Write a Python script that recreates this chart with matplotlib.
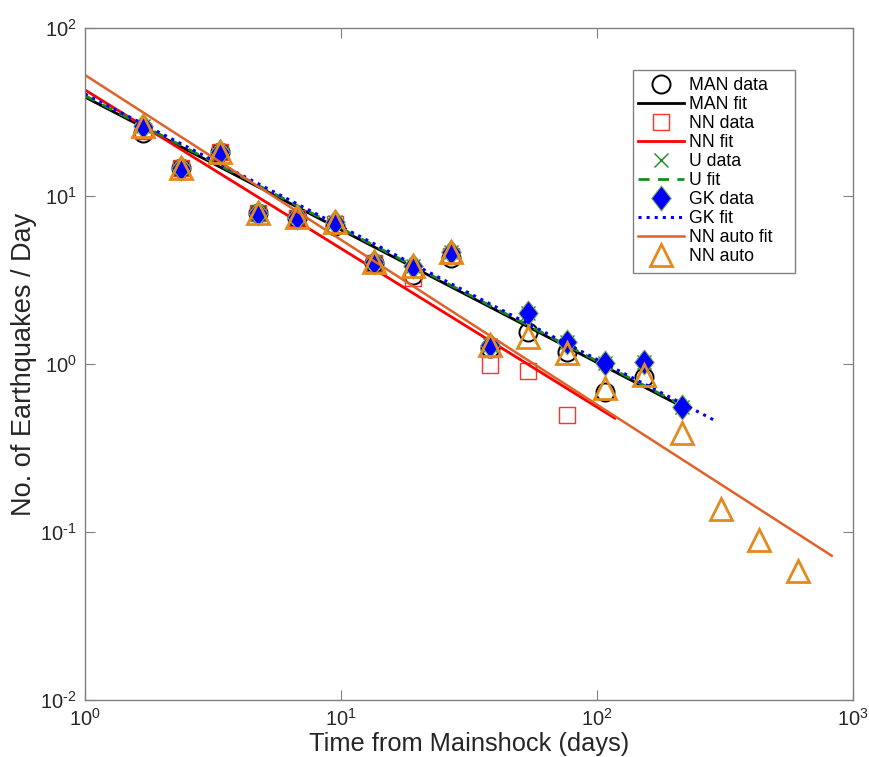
import numpy as np
import matplotlib
matplotlib.use("Agg")
import matplotlib.pyplot as plt
from matplotlib.path import Path
from matplotlib.patches import Rectangle
from matplotlib.ticker import FuncFormatter, NullLocator

plt.rcParams['font.family'] = ['Liberation Sans', 'DejaVu Sans']
plt.rcParams['mathtext.fontset'] = 'custom'
plt.rcParams['mathtext.rm'] = 'Liberation Sans'
plt.rcParams['mathtext.it'] = 'Liberation Sans:italic'
plt.rcParams['mathtext.bf'] = 'Liberation Sans:bold'

# ---- data ----
t_all = [1.68, 2.38, 3.36, 4.76, 6.73, 9.51, 13.45, 19.03, 26.9, 38.05,
         53.8, 76.1, 107.6, 152.2, 215.3, 304.4, 430.5, 608.9]

man_t = t_all[:14]
man_y = [23.7, 14.7, 18.2, 7.9, 7.4, 6.6, 4.0, 3.4, 4.3, 1.25,
         1.56, 1.18, 0.68, 0.84]

nn_t = t_all[:12]
nn_y = [24.5, 14.7, 18.3, 7.9, 7.4, 6.8, 4.0, 3.25, 4.4, 0.99, 0.91, 0.50]

u_t = t_all[:15]
u_y = [26.0, 14.7, 18.4, 7.9, 7.5, 7.0, 4.06, 3.83, 4.66, 1.3,
       2.01, 1.36, 1.01, 1.03, 0.557]

gk_t = t_all[:15]
gk_y = [26.0, 14.7, 18.4, 7.9, 7.5, 7.0, 4.06, 3.83, 4.66, 1.3,
        2.01, 1.36, 1.01, 1.03, 0.557]

nna_t = t_all
nna_y = [26.1, 14.7, 18.4, 7.9, 7.5, 7.0, 4.06, 3.83, 4.66, 1.3,
         1.45, 1.16, 0.72, 0.86, 0.39, 0.137, 0.0896, 0.0586]

# power-law fits: y = K * t^(-p), drawn from t0 to t1
man_fit = dict(K=38.8, p=0.79, t0=1.0, t1=215.0)
nn_fit = dict(K=42.8, p=0.944, t0=1.0, t1=117.5)
u_fit = dict(K=39.6, p=0.79, t0=1.0, t1=215.0)
gk_fit = dict(K=40.5, p=0.79, t0=1.0, t1=292.0)
nna_fit = dict(K=52.5, p=0.981, t0=1.0, t1=826.0)

x_ticks = [1, 10, 100, 1000]
y_ticks = [1e-2, 1e-1, 1, 10, 100]


def fit_curve(f):
    t = np.logspace(np.log10(f['t0']), np.log10(f['t1']), 100)
    return t, f['K'] * t ** (-f['p'])


def pow_fmt(v, pos):
    e = int(round(np.log10(v)))
    if e < 0:
        return r'$\mathregular{10^{\text{-}%d}}$' % (-e)
    return r'$\mathregular{10^{%d}}$' % e


diamond = Path([(0, 1), (0.78, 0), (0, -1), (-0.78, 0), (0, 1)],
               [Path.MOVETO, Path.LINETO, Path.LINETO, Path.LINETO, Path.CLOSEPOLY])

W, H = 869, 757
fig = plt.figure(figsize=(W / 100, H / 100), dpi=100)
ax = fig.add_axes([85 / W, 57 / H, 768 / W, 672 / H])

ax.plot(man_t, man_y, 'o', ms=13, mfc='none', mec='black', mew=1.4, label='MAN data')
ax.plot(*fit_curve(man_fit), '-', color='black', lw=2.0, label='MAN fit')
ax.plot(nn_t, nn_y, 's', ms=11, mfc='none', mec='#ff3030', mew=1.0, label='NN data')
ax.plot(*fit_curve(nn_fit), '-', color='#ff0000', lw=2.0, label='NN fit')
ax.plot(u_t, u_y, 'x', ms=10, mec='#1a8c1a', mew=1.0, label='U data')
ax.plot(*fit_curve(u_fit), '--', color='#1a8c1a', lw=2.0, dashes=(4, 3), label='U fit')
ax.plot(gk_t, gk_y, marker=diamond, ls='none', ms=18, mfc='#0000ff', mec='#7fb04a',
        mew=0.8, label='GK data')
ax.plot(*fit_curve(gk_fit), ':', color='#0000ff', lw=2.2, label='GK fit')
ax.plot(*fit_curve(nna_fit), '-', color='#e0622a', lw=1.8, label='NN auto fit')
ax.plot(nna_t, nna_y, '^', ms=16, mfc='none', mec='#e48a1c', mew=2.0, label='NN auto')

ax.set_xscale('log')
ax.set_yscale('log')
ax.set_xlim(1, 1000)
ax.set_ylim(1e-2, 1e2)
ax.set_xticks(x_ticks)
ax.set_yticks(y_ticks)
ax.xaxis.set_minor_locator(NullLocator())
ax.yaxis.set_minor_locator(NullLocator())
ax.xaxis.set_major_formatter(FuncFormatter(pow_fmt))
ax.yaxis.set_major_formatter(FuncFormatter(pow_fmt))

for s in ax.spines.values():
    s.set_color('#808080')
    s.set_linewidth(1.0)
ax.tick_params(which='both', direction='in', top=True, right=True, length=7,
               width=0.8, color='#808080', labelsize=14.5, labelcolor='#262626', pad=6)

ax.set_xlabel('Time from Mainshock (days)', fontsize=18.3, color='#262626', labelpad=1)
ax.set_ylabel('No. of Earthquakes / Day', fontsize=19.5, color='#262626', labelpad=2)

# legend box (MATLAB-style, wider than matplotlib's own frame)
box = Rectangle((633 / W, 1 - 273 / H), (795 - 633) / W, (273 - 70) / H,
                transform=fig.transFigure, facecolor='white', edgecolor='#808080',
                linewidth=1.0, zorder=4.9, clip_on=False)
ax.add_patch(box)

leg = ax.legend(loc='upper left', bbox_to_anchor=((633 - 85) / 768, (700 - 72) / 672),
                fontsize=12.7, frameon=False, handlelength=2.6,
                handletextpad=0.3, labelspacing=0.11, borderpad=0.3,
                borderaxespad=0, numpoints=1)
leg.set_zorder(5)

fig.savefig('out.png', dpi=100)
